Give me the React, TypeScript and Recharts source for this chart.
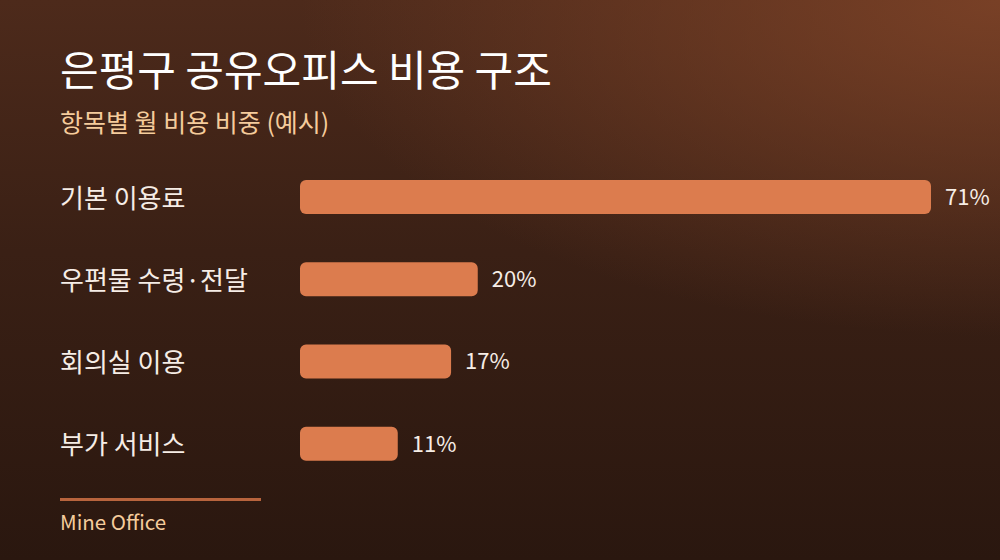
import * as React from 'react';
import { BarChart, Bar, XAxis, YAxis, LabelList } from 'recharts';

const categories = ['기본 이용료', '우편물 수령·전달', '회의실 이용', '부가 서비스'];
const shares = [71, 20, 17, 11];

const data = categories.map((name, i) => ({ name, share: shares[i] }));

const FONT = '"Noto Sans CJK KR", "Noto Sans", sans-serif';

function CategoryTick(props: any) {
  const { y, payload } = props;
  return (
    <text x={60} y={y} dy={-1} dominantBaseline="central" textAnchor="start" fill="#f6ede6" fontSize={26} fontFamily={FONT}>
      {payload.value}
    </text>
  );
}

export default function App() {
  return (
    <div
      style={{
        position: 'absolute',
        left: 0,
        top: 0,
        width: 1000,
        height: 560,
        overflow: 'hidden',
        fontFamily: FONT,
        background:
          'radial-gradient(ellipse 70% 60% at 100% 0%, rgba(128,68,40,0.85) 0%, rgba(128,68,40,0) 100%), linear-gradient(180deg, #4d2a1b 0%, #3a2015 45%, #2a170f 100%)',
      }}
    >
      <div style={{ position: 'absolute', left: 60, top: 43, fontSize: 42, fontWeight: 400, color: '#ffffff', lineHeight: 1.2 }}>
        은평구 공유오피스 비용 구조
      </div>
      <div style={{ position: 'absolute', left: 60, top: 104, fontSize: 25, color: '#f5cc9c', lineHeight: 1.4 }}>
        항목별 월 비용 비중 (예시)
      </div>
      <BarChart
        width={1000}
        height={560}
        data={data}
        layout="vertical"
        margin={{ top: 156, right: 69, bottom: 75, left: 0 }}
        style={{ position: 'absolute', left: 0, top: 0 }}
      >
        <XAxis type="number" domain={[0, 71]} hide />
        <YAxis type="category" dataKey="name" width={300} axisLine={false} tickLine={false} tick={<CategoryTick />} />
        <Bar dataKey="share" fill="#dc7c4e" barSize={34} radius={6} isAnimationActive={false}>
          <LabelList
            dataKey="share"
            position="right"
            offset={14}
            formatter={(v: any) => `${v}%`}
            fill="#f6ede6"
            fontSize={22}
            fontFamily={FONT}
          />
        </Bar>
      </BarChart>
      <div style={{ position: 'absolute', left: 60, top: 498, width: 201, height: 3, background: '#b8643d' }} />
      <div style={{ position: 'absolute', left: 60, top: 507, fontSize: 20.5, color: '#f5cc9c', lineHeight: 1.4 }}>
        Mine Office
      </div>
    </div>
  );
}
